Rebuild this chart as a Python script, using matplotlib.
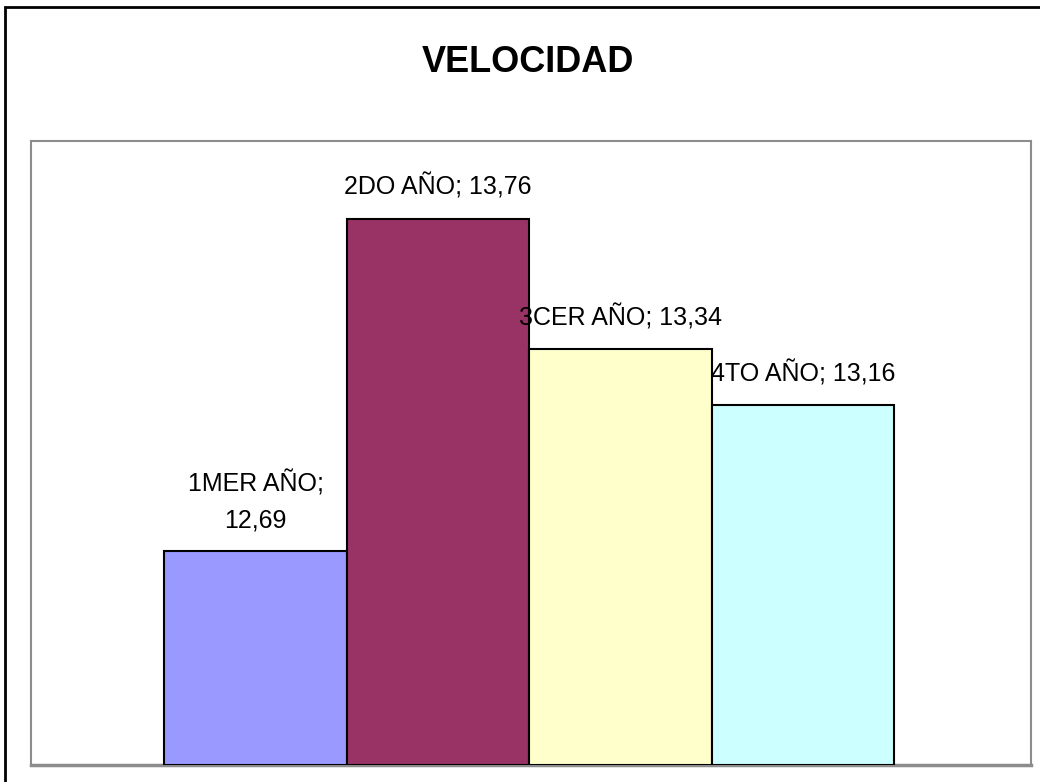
import numpy as np
import matplotlib
matplotlib.use('Agg')
import matplotlib.pyplot as plt
from matplotlib.patches import Rectangle

plt.rcParams["font.family"] = ["Liberation Sans", "DejaVu Sans"]

categories = ['1MER AÑO', '2DO AÑO', '3CER AÑO', '4TO AÑO']
values = [12.69, 13.76, 13.34, 13.16]
bar_colors = ['#9999FF', '#993366', '#FFFFCC', '#CCFFFF']
label_texts = ['1MER AÑO;\n12,69', '2DO AÑO; 13,76', '3CER AÑO; 13,34', '4TO AÑO; 13,16']

W, H = 1040, 782
fig = plt.figure(figsize=(W / 100, H / 100), dpi=100)

# outer chart frame
fig.patches.append(Rectangle((5 / W, -0.1), 1.2, (H - 7) / H + 0.1, transform=fig.transFigure,
                             fill=False, edgecolor='black', linewidth=2))

fig.text(528 / W, 1 - 62 / H, 'VELOCIDAD', ha='center', va='center',
         fontsize=26, fontweight='bold')

ax = fig.add_axes([31 / W, 1 - 765 / H, (1031 - 31) / W, (765 - 141) / H])
x = np.arange(len(values))
base = 12.0
ax.bar(x, np.array(values) - base, bottom=base, width=1.0, color=bar_colors,
       edgecolor='black', linewidth=1.5, zorder=3)

for xi, v, t in zip(x, values, label_texts):
    ax.text(xi, v + 0.06, t, ha='center', va='bottom', fontsize=18,
            linespacing=1.6, zorder=4)

ax.set_ylim(12, 14.01)
ax.set_xlim(-1.23, 4.25)
ax.set_xticks([])
ax.set_yticks([])
for s in ax.spines.values():
    s.set_color('#8c8c8c')
    s.set_linewidth(1.5)
ax.spines['bottom'].set_linewidth(2.5)

fig.savefig('out.png', dpi=100)
